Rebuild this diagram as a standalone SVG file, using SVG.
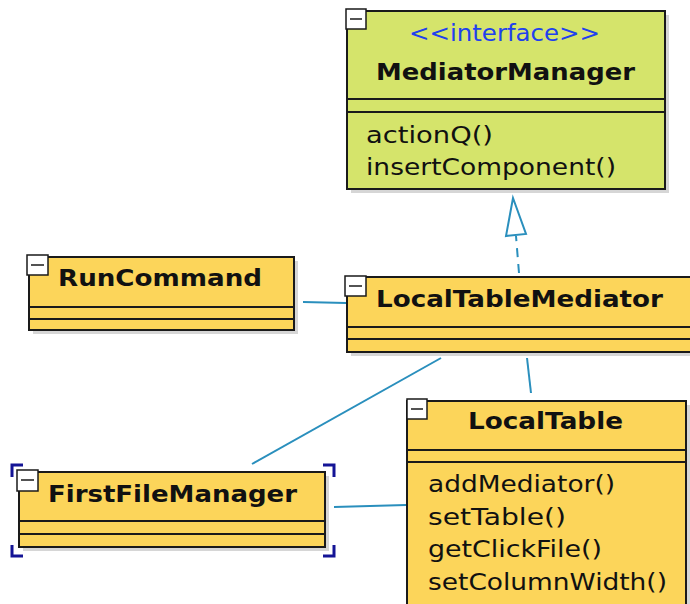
<svg xmlns="http://www.w3.org/2000/svg" width="690" height="604" viewBox="0 0 690 604">
<style>
.box{stroke:#1a1a1a;stroke-width:2}
.yel{fill:#fcd55a}
.grn{fill:#d5e46b}
.shadow{fill:#c4c4c4;opacity:0.7}
.div{stroke:#1a1a1a;stroke-width:2}
.col{fill:#ffffff;stroke:#1a1a1a;stroke-width:1.5}
.colm{stroke:#1a1a1a;stroke-width:1.5}
.name{font-family:"DejaVu Sans",Verdana,sans-serif;font-weight:bold;font-size:23px;fill:#111}
.op{font-family:"DejaVu Sans",Verdana,sans-serif;font-size:23.5px;fill:#111}
.ster{font-family:"DejaVu Sans",Verdana,sans-serif;font-size:23px;fill:#2040ee}
.conn{stroke:#2a8fbd;stroke-width:2;fill:none}
.dash{stroke-dasharray:9 7}
.sel{stroke:#141496;stroke-width:3;fill:none}
</style>
<rect width="690" height="604" fill="#ffffff"/>
<g id="connectors">
<line class="conn" x1="303" y1="302" x2="346" y2="303"/>
<line class="conn" x1="441" y1="358" x2="252" y2="464"/>
<line class="conn" x1="527" y1="358" x2="531" y2="393"/>
<line class="conn" x1="334" y1="507" x2="406" y2="505"/>
<line class="conn dash" x1="519" y1="273" x2="516" y2="236"/>
<polygon class="conn" points="513,198 526,234 506,236"/>
</g>
<g id="MediatorManager">
<rect class="shadow" x="351" y="15" width="318" height="178"/>
<rect class="box grn" x="347" y="11" width="318" height="178"/>
<line class="div" x1="347" y1="99" x2="665" y2="99"/>
<line class="div" x1="347" y1="112" x2="665" y2="112"/>
<rect class="col" x="346" y="9" width="20" height="20"/>
<line class="colm" x1="350" y1="19" x2="362" y2="19"/>
<text class="ster" x="409" y="41" textLength="191" lengthAdjust="spacingAndGlyphs">&lt;&lt;interface&gt;&gt;</text>
<text class="name" x="376" y="80" textLength="259" lengthAdjust="spacingAndGlyphs">MediatorManager</text>
<text class="op" x="366" y="143" textLength="127" lengthAdjust="spacingAndGlyphs">actionQ()</text>
<text class="op" x="366" y="175" textLength="250" lengthAdjust="spacingAndGlyphs">insertComponent()</text>
</g>
<g id="RunCommand">
<rect class="shadow" x="33" y="261" width="265" height="73"/>
<rect class="box yel" x="29" y="257" width="265" height="73"/>
<line class="div" x1="29" y1="307" x2="294" y2="307"/>
<line class="div" x1="29" y1="319" x2="294" y2="319"/>
<rect class="col" x="27" y="255" width="21" height="20"/>
<line class="colm" x1="31" y1="265" x2="44" y2="265"/>
<text class="name" x="58" y="286" textLength="204" lengthAdjust="spacingAndGlyphs">RunCommand</text>
</g>
<g id="LocalTableMediator">
<rect class="shadow" x="351" y="281" width="345" height="75"/>
<rect class="box yel" x="347" y="277" width="350" height="75"/>
<line class="div" x1="347" y1="327" x2="690" y2="327"/>
<line class="div" x1="347" y1="339" x2="690" y2="339"/>
<rect class="col" x="345" y="276" width="21" height="20"/>
<line class="colm" x1="349" y1="286" x2="362" y2="286"/>
<text class="name" x="376" y="307" textLength="287" lengthAdjust="spacingAndGlyphs">LocalTableMediator</text>
</g>
<g id="LocalTable">
<rect class="shadow" x="411" y="405" width="279" height="210"/>
<rect class="box yel" x="407" y="401" width="279" height="210"/>
<line class="div" x1="407" y1="450" x2="686" y2="450"/>
<line class="div" x1="407" y1="462" x2="686" y2="462"/>
<rect class="col" x="407" y="399" width="20" height="20"/>
<line class="colm" x1="411" y1="409" x2="423" y2="409"/>
<text class="name" x="468" y="429" textLength="155" lengthAdjust="spacingAndGlyphs">LocalTable</text>
<text class="op" x="428" y="492" textLength="187" lengthAdjust="spacingAndGlyphs">addMediator()</text>
<text class="op" x="428" y="525" textLength="138" lengthAdjust="spacingAndGlyphs">setTable()</text>
<text class="op" x="428" y="557" textLength="174" lengthAdjust="spacingAndGlyphs">getClickFile()</text>
<text class="op" x="428" y="590" textLength="239" lengthAdjust="spacingAndGlyphs">setColumnWidth()</text>
</g>
<g id="FirstFileManager">
<rect class="shadow" x="23" y="476" width="306" height="75"/>
<rect class="box yel" x="19" y="472" width="306" height="75"/>
<line class="div" x1="19" y1="521" x2="325" y2="521"/>
<line class="div" x1="19" y1="534" x2="325" y2="534"/>
<rect class="col" x="17" y="470" width="21" height="21"/>
<line class="colm" x1="21" y1="480" x2="34" y2="480"/>
<text class="name" x="48" y="502" textLength="249" lengthAdjust="spacingAndGlyphs">FirstFileManager</text>
<path class="sel" d="M12,477 V465 H23"/>
<path class="sel" d="M323,465 H334 V477"/>
<path class="sel" d="M12,545 V556 H23"/>
<path class="sel" d="M323,556 H334 V545"/>
</g>
</svg>
